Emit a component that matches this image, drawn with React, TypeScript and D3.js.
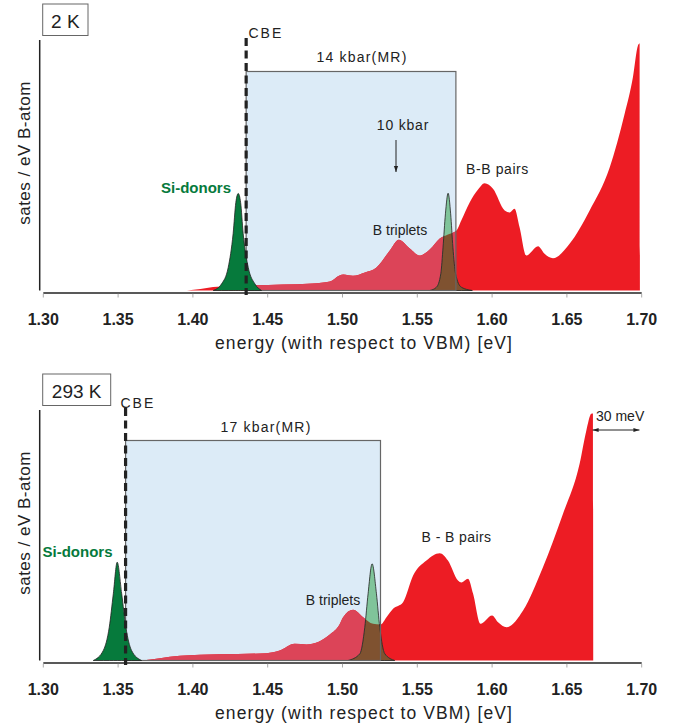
import React from "react";
import * as d3 from "d3";

type Pt = [number, number];

const energyTicks = [1.3, 1.35, 1.4, 1.45, 1.5, 1.55, 1.6, 1.65, 1.7];

// 2 K panel: density of states (arb. units) vs energy [eV]
const states2K: Pt[] = [
  [1.396, 0], [1.405, 1.5], [1.4135, 3.5], [1.436, 5], [1.46, 6], [1.48, 7],
  [1.4916, 9], [1.498, 15], [1.5006, 16], [1.507, 14.7], [1.515, 18], [1.5227, 23],
  [1.5316, 40], [1.5376, 50.7], [1.545, 42], [1.5516, 35], [1.5583, 41], [1.565, 52],
  [1.5705, 56], [1.5762, 60], [1.5794, 70], [1.585, 88], [1.5906, 101], [1.595, 107.3],
  [1.6006, 101.7], [1.6084, 80], [1.6118, 78], [1.615, 81.7], [1.6184, 63], [1.6229, 35],
  [1.6307, 44.3], [1.6351, 36.7], [1.6407, 32.3], [1.6518, 46.7], [1.6652, 80],
  [1.6786, 123], [1.6886, 176.7], [1.6941, 213], [1.6975, 245], [1.6986, 247], [1.6988, 0],
];
const donor2K: Pt[] = [
  [1.4136, 0], [1.4192, 6.7], [1.4236, 23], [1.4269, 57], [1.4287, 88], [1.4303, 97],
  [1.4319, 88], [1.4336, 57], [1.437, 23], [1.4414, 6.7], [1.4459, 0],
];
const triplet2K: Pt[] = [
  [1.5583, 0], [1.5628, 3.3], [1.5657, 16.7], [1.5672, 43.3], [1.5688, 76.7], [1.5706, 97.3],
  [1.5723, 76.7], [1.5738, 43.3], [1.5756, 16.7], [1.5794, 3.3], [1.5868, 0],
];
const cbe2K = 1.4356;
const mrEdge2K = 1.5758;
const mrTop2K = 219;

// 293 K panel
const states293K: Pt[] = [
  [1.3657, 0], [1.378, 2.3], [1.3913, 4.7], [1.4047, 5.7], [1.43, 6.5], [1.4492, 7.3],
  [1.458, 10], [1.468, 16.7], [1.476, 16], [1.4915, 26], [1.498, 36], [1.5004, 43.3],
  [1.5071, 50.7], [1.5138, 43.3], [1.5204, 36.7], [1.5254, 36], [1.5294, 43.3],
  [1.5338, 51.7], [1.5405, 58.3], [1.5472, 85], [1.5561, 100], [1.565, 107.3],
  [1.5705, 100], [1.5772, 80], [1.5795, 78], [1.5839, 81.7], [1.5873, 66.7],
  [1.5922, 36.7], [1.6, 45], [1.604, 38.3], [1.6096, 33.3], [1.6207, 50], [1.634, 93.3],
  [1.6474, 146.7], [1.6585, 196.7], [1.663, 230], [1.6663, 246.7], [1.6674, 247], [1.6676, 0],
];
const donor293K: Pt[] = [
  [1.3334, 0], [1.3401, 10], [1.3441, 33.3], [1.3468, 66.7], [1.3494, 98.3],
  [1.3524, 66.7], [1.3552, 33.3], [1.359, 10], [1.3657, 0],
];
const triplet293K: Pt[] = [
  [1.5037, 0], [1.5116, 6.7], [1.5149, 33.3], [1.5171, 66.7], [1.5198, 96.7],
  [1.5227, 66.7], [1.5249, 33.3], [1.5283, 6.7], [1.5349, 0],
];
const cbe293K = 1.355;
const mrEdge293K = 1.5254;
const mrTop293K = 220;
const meVArrow = [1.6672, 1.6985];

const FONT = "'Liberation Sans', Arial, Helvetica, sans-serif";
const RED = "#ed1c24";
const PINK = "#dc4458";
const BOX = "#dcebf7";
const GREEN = "#067a3c";
const LIGHT_GREEN = "#80c49a";
const BROWN = "#7f5230";

const x = d3.scaleLinear().domain([1.3, 1.7]).range([43.3, 641.7]);

interface PanelProps {
  id: string;
  dy: number;
  states: Pt[];
  donor: Pt[];
  triplet: Pt[];
  cbe: number;
  mrEdge: number;
  mrTop: number;
  tempLabel: string;
  boxW: number;
  mrLabel: string;
  mrLabelX: number;
  cbeX: number;
  children?: React.ReactNode;
}

function Panel(p: PanelProps) {
  const base = 290.5 + p.dy;
  const y = d3.scaleLinear().domain([0, 250]).range([base, base - 250]);
  const area = d3
    .area<Pt>()
    .x((d) => x(d[0]))
    .y0(y(0))
    .y1((d) => y(d[1]))
    .curve(d3.curveMonotoneX);
  const axisY = 293 + p.dy;
  const statesPath = area(p.states) || "";
  const tripletPath = area(p.triplet) || "";
  const donorPath = area(p.donor) || "";
  const bx = x(p.cbe);
  const bw = x(p.mrEdge) - x(p.cbe);
  const by = y(p.mrTop);
  const bh = y(0) - y(p.mrTop);
  return (
    <g>
      <defs>
        <clipPath id={"clip-" + p.id}>
          <path d={statesPath} />
        </clipPath>
        <clipPath id={"box-" + p.id}>
          <rect x={bx} y={by} width={bw} height={bh + 1} />
        </clipPath>
      </defs>
      {/* temperature box */}
      <rect x={42.7} y={4 + p.dy} width={p.boxW} height={31.5} fill="#fff" stroke="#666" strokeWidth={1} />
      <text x={42.7 + p.boxW / 2} y={27.5 + p.dy} textAnchor="middle" fontSize={19} fontFamily={FONT} fill="#222">
        {p.tempLabel}
      </text>
      {/* y axis */}
      <line x1={39.7} x2={39.7} y1={40 + p.dy} y2={base} stroke="#222" strokeWidth={1.5} />
      <text
        transform={`translate(30,${153 + p.dy}) rotate(-90)`}
        textAnchor="middle"
        fontSize={17}
        letterSpacing={0.5}
        fontFamily={FONT}
        fill="#222"
      >
        sates / eV B-atom
      </text>
      {/* MR box fill */}
      <rect x={bx} y={by} width={bw} height={bh} fill={BOX} />
      {/* states */}
      <path d={statesPath} fill={RED} />
      <path d={statesPath} fill={PINK} clipPath={`url(#box-${p.id})`} />
      {/* B triplet peak */}
      <path d={tripletPath} fill={LIGHT_GREEN} />
      <path d={tripletPath} fill={BROWN} clipPath={`url(#clip-${p.id})`} />
      <path d={tripletPath} fill="none" stroke="#222" strokeWidth={0.8} />
      <rect x={bx} y={by} width={bw} height={bh} fill="none" stroke="#666" strokeWidth={1.2} />
      {/* Si donor peak */}
      <path d={donorPath} fill={GREEN} stroke="#222" strokeWidth={0.8} />
      {/* CBE */}
      <line
        x1={x(p.cbe)}
        x2={x(p.cbe)}
        y1={38 + p.dy}
        y2={295 + p.dy}
        stroke="#222"
        strokeWidth={3.2}
        strokeDasharray="8,4.5"
      />
      <text x={p.cbeX} y={38 + p.dy} fontSize={14} letterSpacing={2} fontFamily={FONT} fill="#222">
        CBE
      </text>
      <text x={p.mrLabelX} y={61.7 + p.dy} textAnchor="middle" fontSize={14} letterSpacing={1.2} fontFamily={FONT} fill="#222">
        {p.mrLabel}
      </text>
      {/* x axis */}
      <line x1={x(1.3)} x2={x(1.7)} y1={axisY} y2={axisY} stroke="#222" strokeWidth={1.5} />
      {energyTicks.map((t) => (
        <g key={t}>
          <line x1={x(t)} x2={x(t)} y1={axisY + 0.8} y2={axisY + 4.5} stroke="#aaa" strokeWidth={1} />
          <text x={x(t)} y={325 + p.dy} textAnchor="middle" fontSize={16} fontWeight="bold" fontFamily={FONT} fill="#222">
            {t.toFixed(2)}
          </text>
        </g>
      ))}
      <text x={364} y={349 + p.dy} textAnchor="middle" fontSize={17.5} letterSpacing={1.1} fontFamily={FONT} fill="#222">
        energy (with respect to VBM) [eV]
      </text>
      {p.children}
    </g>
  );
}

export default function App() {
  return (
    <svg width={677} height={726} style={{ position: "absolute", left: 0, top: 0, background: "#fff" }}>
      <defs>
        <marker id="ah" viewBox="0 0 10 10" refX="10" refY="5" markerWidth="7" markerHeight="6" orient="auto-start-reverse">
          <path d="M0,1.5 L10,5 L0,8.5 z" fill="#222" />
        </marker>
      </defs>
      <Panel
        id="a"
        dy={0}
        states={states2K}
        donor={donor2K}
        triplet={triplet2K}
        cbe={cbe2K}
        mrEdge={mrEdge2K}
        mrTop={mrTop2K}
        tempLabel="2 K"
        boxW={45.3}
        mrLabel="14 kbar(MR)"
        mrLabelX={362}
        cbeX={248.5}
      >
        <text x={403} y={130} textAnchor="middle" fontSize={14} letterSpacing={0.8} fontFamily={FONT} fill="#222">
          10 kbar
        </text>
        <line x1={396} x2={396} y1={140} y2={172} stroke="#222" strokeWidth={1} markerEnd="url(#ah)" />
        <text x={400} y={235} textAnchor="middle" fontSize={14} fontFamily={FONT} fill="#222">
          B triplets
        </text>
        <text x={497.5} y={174} textAnchor="middle" fontSize={14} letterSpacing={0.6} fontFamily={FONT} fill="#222">
          B-B pairs
        </text>
        <text x={196} y={192.5} textAnchor="middle" fontSize={15} fontWeight="bold" fontFamily={FONT} fill={GREEN}>
          Si-donors
        </text>
      </Panel>
      <Panel
        id="b"
        dy={370}
        states={states293K}
        donor={donor293K}
        triplet={triplet293K}
        cbe={cbe293K}
        mrEdge={mrEdge293K}
        mrTop={mrTop293K}
        tempLabel="293 K"
        boxW={68}
        mrLabel="17 kbar(MR)"
        mrLabelX={266}
        cbeX={120.5}
      >
        <text x={333} y={605} textAnchor="middle" fontSize={14} fontFamily={FONT} fill="#222">
          B triplets
        </text>
        <text x={456.5} y={541.5} textAnchor="middle" fontSize={14} letterSpacing={0.4} fontFamily={FONT} fill="#222">
          B - B pairs
        </text>
        <text x={77.5} y={556.5} textAnchor="middle" fontSize={15} fontWeight="bold" fontFamily={FONT} fill={GREEN}>
          Si-donors
        </text>
        <text x={596} y={421} fontSize={14} fontFamily={FONT} fill="#222">
          30 meV
        </text>
        <line
          x1={x(meVArrow[0])}
          x2={x(meVArrow[1])}
          y1={430}
          y2={430}
          stroke="#222"
          strokeWidth={1}
          markerStart="url(#ah)"
          markerEnd="url(#ah)"
        />
      </Panel>
    </svg>
  );
}
